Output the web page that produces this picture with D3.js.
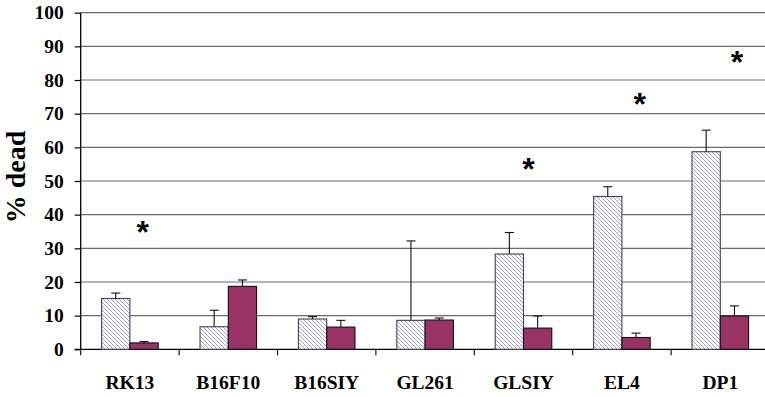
<!DOCTYPE html>
<html>
<head>
<meta charset="utf-8">
<script src="https://cdn.jsdelivr.net/npm/d3@7"></script>
<style>
  html, body { margin: 0; padding: 0; background: #fff; }
  svg { display: block; }
</style>
</head>
<body>
<svg id="chart" width="765" height="397"></svg>
<script>
// Cell lines and measured % dead (mean and upper error) for the two conditions
const categories = ["RK13", "B16F10", "B16SIY", "GL261", "GLSIY", "EL4", "DP1"];
const hatchedValues = [15.1, 6.7, 9.0, 8.6, 28.3, 45.4, 58.7];
const hatchedErrors = [1.6, 4.9, 0.7, 23.6, 6.4, 2.9, 6.4];
const solidValues = [1.9, 18.7, 6.6, 8.7, 6.3, 3.5, 9.9];
const solidErrors = [0.4, 1.9, 2.0, 0.6, 3.6, 1.3, 3.0];
const yTicks = [0, 10, 20, 30, 40, 50, 60, 70, 80, 90, 100];

// Significance markers: category and height on the value axis
const starCategories = ["RK13", "GLSIY", "EL4", "DP1"];
const starLevels = [35.1, 53.9, 73.2, 85.7];
const starShift = [0.13, 0.05, 0.18, 0.17];

const series = ["hatched", "solid"];
const rows = categories.map((c, i) => ({
  cat: c,
  bars: [
    { key: "hatched", value: hatchedValues[i], err: hatchedErrors[i] },
    { key: "solid", value: solidValues[i], err: solidErrors[i] }
  ]
}));

const svg = d3.select("#chart");
const plotLeft = 80.7, plotRight = 769.5, plotTop = 12.7, plotBottom = 349.3;
const serif = "'Liberation Serif', 'Times New Roman', serif";

const x0 = d3.scaleBand().domain(categories).range([plotLeft, plotRight]).padding(0);
const x1 = d3.scaleBand().domain(series).range([0, x0.bandwidth()])
  .paddingInner(0).paddingOuter(0.74);
const y = d3.scaleLinear().domain([0, 100]).range([plotBottom, plotTop]);

// Diagonal hatch fill, applied in the chart's own pixel grid
const defs = svg.append("defs");
const pat = defs.append("pattern")
  .attr("id", "hatch").attr("patternUnits", "userSpaceOnUse")
  .attr("width", 4).attr("height", 4);
pat.append("rect").attr("width", 4).attr("height", 4).attr("fill", "#fff");
pat.append("path").attr("d", "M-1,-1 L5,5 M-1,3 L1,5 M3,-1 L5,1")
  .attr("stroke", "#8f8fff").attr("stroke-width", 0.9);

// Gridlines
svg.append("g").selectAll("line").data(yTicks.filter(t => t > 0)).join("line")
  .attr("x1", plotLeft).attr("x2", 765)
  .attr("y1", d => y(d)).attr("y2", d => y(d))
  .attr("stroke", "#6a6a6a").attr("stroke-width", 1.2);

// Y axis
const yAxis = svg.append("g").attr("transform", `translate(${plotLeft},0)`)
  .call(d3.axisLeft(y).tickValues(yTicks).tickSize(6).tickPadding(11));
yAxis.select(".domain").attr("stroke", "#000").attr("stroke-width", 1.3)
  .attr("d", `M0,${plotTop}V${plotBottom}`);
yAxis.selectAll(".tick line").attr("stroke", "#000").attr("stroke-width", 1.2);
yAxis.selectAll(".tick text")
  .attr("font-family", serif).attr("font-weight", "bold")
  .attr("font-size", 19.5).attr("fill", "#000");

// X axis
const xAxis = svg.append("g").attr("transform", `translate(0,${plotBottom})`)
  .call(d3.axisBottom(x0).tickSize(0).tickPadding(26));
xAxis.select(".domain").attr("stroke", "#000").attr("stroke-width", 1.3)
  .attr("d", `M${plotLeft - 6},0H765`);
xAxis.selectAll(".tick text")
  .attr("font-family", serif).attr("font-weight", "bold")
  .attr("font-size", 19.5).attr("fill", "#000");
// Category separator ticks below the axis
svg.append("g").selectAll("line")
  .data(categories).join("line")
  .attr("x1", d => x0(d)).attr("x2", d => x0(d))
  .attr("y1", plotBottom).attr("y2", plotBottom + 6)
  .attr("stroke", "#000").attr("stroke-width", 1.1);

// Bars: positions in root coordinates so the hatch stays pixel aligned
const flat = rows.flatMap(r => r.bars.map(b => ({ ...b, cat: r.cat })));
const barX = d => x0(d.cat) + x1(d.key);
svg.append("g").selectAll("rect").data(flat).join("rect")
  .attr("x", barX).attr("width", x1.bandwidth())
  .attr("y", d => y(d.value)).attr("height", d => y(0) - y(d.value))
  .attr("fill", d => d.key === "hatched" ? "url(#hatch)" : "#993366")
  .attr("stroke", d => d.key === "hatched" ? "#444" : "#111")
  .attr("stroke-width", 1.1);

// Upper error bars
const cx = d => barX(d) + x1.bandwidth() / 2;
const eb = svg.append("g").selectAll("g").data(flat).join("g");
eb.append("line")
  .attr("x1", cx).attr("x2", cx)
  .attr("y1", d => y(d.value)).attr("y2", d => y(d.value + d.err))
  .attr("stroke", "#111").attr("stroke-width", 1.1);
eb.append("line")
  .attr("x1", d => cx(d) - 4.5).attr("x2", d => cx(d) + 4.5)
  .attr("y1", d => y(d.value + d.err)).attr("y2", d => y(d.value + d.err))
  .attr("stroke", "#111").attr("stroke-width", 1.1);

// Significance asterisks
svg.append("g").selectAll("text").data(starCategories).join("text")
  .attr("x", (d, i) => x0(d) + x0.bandwidth() * (0.5 + starShift[i]))
  .attr("y", (d, i) => y(starLevels[i]) + 12)
  .attr("text-anchor", "middle")
  .attr("font-family", "'Liberation Sans', Arial, sans-serif")
  .attr("font-weight", "bold").attr("font-size", 32).attr("fill", "#000")
  .text("*");

// Y axis title
svg.append("text")
  .attr("transform", `translate(25,177) rotate(-90)`)
  .attr("text-anchor", "middle")
  .attr("font-family", serif).attr("font-weight", "bold")
  .attr("font-size", 28).attr("fill", "#000")
  .text("% dead");
</script>
</body>
</html>
